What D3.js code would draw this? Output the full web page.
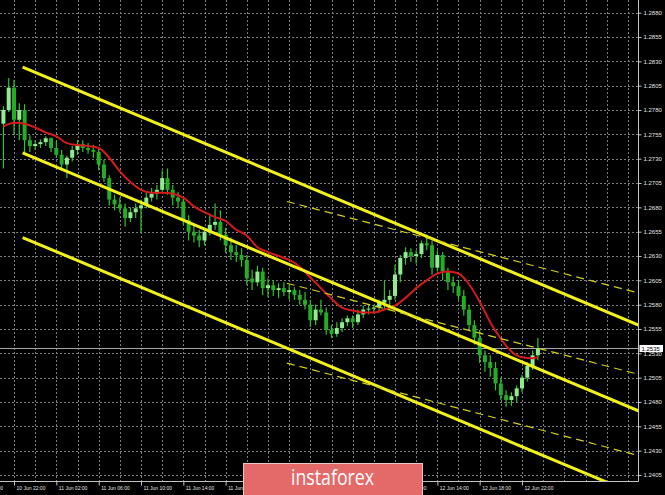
<!DOCTYPE html>
<html><head><meta charset="utf-8">
<script src="https://cdn.jsdelivr.net/npm/d3@7"></script>
<style>
html,body{margin:0;padding:0;background:#000;}
svg{display:block;}
</style></head>
<body><svg id="c" width="665" height="495"></svg>
<script>
// ---------- data (GBP/USD, 30-minute bars from 10 Jun 21:00) ----------
const barStart = "2020-06-10 21:00";
const barMinutes = 30;
const open = [1.2766,1.2780,1.2803,1.2770,1.2780,1.2749,1.2743,1.2745,1.2747,1.2751,
1.2741,1.2734,1.2724,1.2731,1.2739,1.2745,1.2741,1.2739,1.2737,1.2724,
1.2710,1.2688,1.2683,1.2679,1.2669,1.2675,1.2679,1.2682,1.2690,1.2694,
1.2698,1.2710,1.2698,1.2690,1.2686,1.2667,1.2655,1.2651,1.2646,1.2655,
1.2662,1.2665,1.2652,1.2641,1.2634,1.2631,1.2626,1.2607,1.2603,1.2614,
1.2597,1.2600,1.2595,1.2597,1.2593,1.2595,1.2590,1.2585,1.2580,1.2564,
1.2575,1.2572,1.2554,1.2550,1.2556,1.2562,1.2566,1.2562,1.2570,1.2575,
1.2576,1.2577,1.2582,1.2585,1.2589,1.2611,1.2628,1.2634,1.2630,1.2632,
1.2643,1.2641,1.2618,1.2631,1.2614,1.2603,1.2599,1.2589,1.2575,1.2559,
1.2546,1.2528,1.2521,1.2515,1.2499,1.2487,1.2482,1.2486,1.2494,1.2505,
1.2517,1.2528];
const high = [1.2784,1.2813,1.2811,1.2787,1.2786,1.2754,1.2749,1.2750,1.2753,1.2752,
1.2749,1.2739,1.2733,1.2743,1.2749,1.2749,1.2746,1.2744,1.2741,1.2729,
1.2713,1.2693,1.2690,1.2684,1.2680,1.2684,1.2688,1.2695,1.2700,1.2703,
1.2718,1.2720,1.2703,1.2696,1.2690,1.2672,1.2662,1.2657,1.2659,1.2672,
1.2684,1.2677,1.2659,1.2649,1.2641,1.2638,1.2631,1.2616,1.2620,1.2618,
1.2607,1.2605,1.2602,1.2603,1.2600,1.2598,1.2595,1.2593,1.2585,1.2580,
1.2585,1.2577,1.2559,1.2562,1.2566,1.2569,1.2569,1.2575,1.2579,1.2580,
1.2580,1.2585,1.2605,1.2595,1.2621,1.2631,1.2639,1.2638,1.2636,1.2646,
1.2652,1.2646,1.2636,1.2634,1.2618,1.2609,1.2605,1.2595,1.2580,1.2564,
1.2554,1.2533,1.2528,1.2521,1.2505,1.2492,1.2490,1.2497,1.2508,1.2521,
1.2533,1.2546];
const low = [1.2720,1.2778,1.2754,1.2749,1.2736,1.2737,1.2739,1.2741,1.2743,1.2737,
1.2731,1.2718,1.2710,1.2727,1.2734,1.2737,1.2735,1.2731,1.2718,1.2706,
1.2682,1.2677,1.2675,1.2660,1.2665,1.2669,1.2654,1.2679,1.2686,1.2688,
1.2696,1.2693,1.2682,1.2679,1.2662,1.2646,1.2644,1.2639,1.2641,1.2651,
1.2657,1.2646,1.2633,1.2626,1.2624,1.2619,1.2600,1.2595,1.2599,1.2590,
1.2588,1.2589,1.2587,1.2589,1.2585,1.2585,1.2580,1.2575,1.2557,1.2559,
1.2569,1.2549,1.2546,1.2547,1.2552,1.2558,1.2556,1.2559,1.2566,1.2570,
1.2571,1.2572,1.2575,1.2575,1.2585,1.2603,1.2621,1.2624,1.2622,1.2628,
1.2636,1.2611,1.2614,1.2605,1.2595,1.2592,1.2585,1.2569,1.2554,1.2539,
1.2520,1.2511,1.2506,1.2492,1.2482,1.2475,1.2476,1.2480,1.2490,1.2501,
1.2513,1.2523];
const close = [1.2780,1.2803,1.2770,1.2780,1.2749,1.2743,1.2745,1.2747,1.2751,1.2741,
1.2734,1.2724,1.2731,1.2739,1.2745,1.2741,1.2739,1.2737,1.2724,1.2710,
1.2688,1.2683,1.2679,1.2669,1.2675,1.2679,1.2682,1.2690,1.2694,1.2698,
1.2710,1.2698,1.2690,1.2686,1.2667,1.2655,1.2651,1.2646,1.2655,1.2662,
1.2665,1.2652,1.2641,1.2634,1.2631,1.2626,1.2607,1.2603,1.2614,1.2597,
1.2600,1.2595,1.2597,1.2593,1.2595,1.2590,1.2585,1.2580,1.2564,1.2575,
1.2572,1.2554,1.2550,1.2556,1.2562,1.2566,1.2562,1.2570,1.2575,1.2576,
1.2577,1.2582,1.2585,1.2589,1.2611,1.2628,1.2634,1.2630,1.2632,1.2643,
1.2641,1.2618,1.2631,1.2614,1.2603,1.2599,1.2589,1.2575,1.2559,1.2546,
1.2528,1.2521,1.2515,1.2499,1.2487,1.2482,1.2486,1.2494,1.2505,1.2517,
1.2528,1.2535];
// moving average, read hourly (bars 0,2,4,...,100) plus the last bar
const maValues = [1.2763,1.2767,1.2766,1.2762,1.2757,1.2753,1.2746,1.2744,1.2743,1.2741,
1.2731,1.2717,1.2706,1.2698,1.2695,1.2695,1.2694,1.2690,1.2681,1.2675,
1.2670,1.2666,1.2657,1.2651,1.2639,1.2634,1.2630,1.2626,1.2619,1.2608,
1.2597,1.2586,1.2577,1.2574,1.2572,1.2572,1.2575,1.2579,1.2587,1.2597,
1.2605,1.2612,1.2614,1.2612,1.2601,1.2583,1.2562,1.2545,1.2532,1.2526,
1.2525,1.2526];
const currentPrice = 1.2535;
// channel lines [time, price]
const channelTop = [["2020-06-10 22:49",1.2824],["2020-06-13 09:00",1.2559]];
const channelMid = [["2020-06-10 22:49",1.2736],["2020-06-13 09:00",1.2471]];
const channelBot = [["2020-06-10 22:49",1.2649],["2020-06-13 09:00",1.2384]];
const dashTop = [["2020-06-11 23:47",1.2686],["2020-06-13 09:00",1.2592]];
const dashMid = [["2020-06-11 23:47",1.2602],["2020-06-13 09:00",1.25085]];
const dashBot = [["2020-06-11 23:47",1.2520],["2020-06-13 09:00",1.2425]];
// tick labels (labels that the logo fully covers are not drawn)
const yTicks = [1.2880,1.2855,1.2830,1.2805,1.2780,1.2755,1.2730,1.2705,1.2680,1.2655,
1.2630,1.2605,1.2580,1.2555,1.2530,1.2505,1.2480,1.2455,1.2430,1.2405];
const xTickLabels = ["2020-06-10 18:00","2020-06-10 22:00","2020-06-11 02:00","2020-06-11 06:00",
"2020-06-11 10:00","2020-06-11 14:00","2020-06-11 18:00",
"2020-06-12 10:00","2020-06-12 14:00","2020-06-12 18:00","2020-06-12 22:00"];
const logoText = "instaforex";

// ---------- drawing ----------
const W = 665, H = 495, plotR = 638, plotB = 481;
const parse = d3.timeParse("%Y-%m-%d %H:%M");
const x = d3.scaleTime()
  .domain([parse("2020-06-10 22:00"), parse("2020-06-13 10:00")])
  .range([14, 649]);
const y = d3.scaleLinear().domain([1.2405, 1.2880]).range([475, 12.7]);

const svg = d3.select("#c");
svg.append("rect").attr("width", W).attr("height", H).attr("fill", "#000");
svg.append("defs").append("clipPath").attr("id", "plot")
  .append("rect").attr("x", 0).attr("y", 0).attr("width", plotR).attr("height", plotB);

const g = svg.append("g").attr("clip-path", "url(#plot)");

// grid
const gridColor = "#7c7c7c";
g.append("g").selectAll("line").data(yTicks).join("line")
  .attr("x1", 0).attr("x2", plotR)
  .attr("y1", d => Math.round(y(d)) + 0.5).attr("y2", d => Math.round(y(d)) + 0.5)
  .attr("stroke", gridColor).attr("stroke-width", 1).attr("stroke-dasharray", "2,2");
const vGrid = d3.timeHour.every(2).range(parse("2020-06-10 20:00"), parse("2020-06-13 10:00"));
g.append("g").selectAll("line").data(vGrid).join("line")
  .attr("x1", d => Math.round(x(d)) + 0.5).attr("x2", d => Math.round(x(d)) + 0.5)
  .attr("y1", 0).attr("y2", plotB)
  .attr("stroke", gridColor).attr("stroke-width", 1).attr("stroke-dasharray", "2,2");

// current price line
g.append("line").attr("x1", 0).attr("x2", plotR)
  .attr("y1", y(currentPrice)).attr("y2", y(currentPrice))
  .attr("stroke", "#a8a8a8").attr("stroke-width", 1);

// candles
const bars = close.map((c, i) => ({
  t: d3.timeMinute.offset(parse(barStart), barMinutes * i),
  o: open[i], h: high[i], l: low[i], c: c
}));
const bw = 4;
const cg = g.append("g");
cg.selectAll("line").data(bars).join("line")
  .attr("x1", d => x(d.t)).attr("x2", d => x(d.t))
  .attr("y1", d => y(d.h)).attr("y2", d => y(d.l))
  .attr("stroke", "#2ec42e").attr("stroke-width", 1.2);
cg.selectAll("rect").data(bars).join("rect")
  .attr("x", d => x(d.t) - bw / 2)
  .attr("y", d => y(Math.max(d.o, d.c)))
  .attr("width", bw)
  .attr("height", d => Math.max(1, Math.abs(y(d.o) - y(d.c))))
  .attr("fill", d => d.c >= d.o ? "#8fec8f" : "#25ad25");

// moving average
const maPts = maValues.map((v, i) => ({ t: bars[Math.min(i * 2, bars.length - 1)].t, v }));
g.append("path").datum(maPts)
  .attr("d", d3.line().x(d => x(d.t)).y(d => y(d.v)).curve(d3.curveMonotoneX))
  .attr("fill", "none").attr("stroke", "#d41a1a").attr("stroke-width", 2);

// channel lines
const seg = d3.line().x(d => x(parse(d[0]))).y(d => y(d[1]));
[channelTop, channelMid, channelBot].forEach(L => {
  g.append("path").attr("d", seg(L)).attr("fill", "none")
    .attr("stroke", "#f2f21a").attr("stroke-width", 3);
});
[dashTop, dashMid, dashBot].forEach(L => {
  g.append("path").attr("d", seg(L)).attr("fill", "none")
    .attr("stroke", "#cfcf1c").attr("stroke-width", 1.2).attr("stroke-dasharray", "8,5");
});

// borders
svg.append("line").attr("x1", plotR + 0.5).attr("x2", plotR + 0.5).attr("y1", 0).attr("y2", plotB + 0.5)
  .attr("stroke", "#c4c4c4");
svg.append("line").attr("x1", 0).attr("x2", plotR + 0.5).attr("y1", plotB + 0.5).attr("y2", plotB + 0.5)
  .attr("stroke", "#c4c4c4");

// y axis
const yAxis = svg.append("g").attr("transform", `translate(${plotR + 0.5},0)`)
  .call(d3.axisRight(y).tickValues(yTicks).tickSize(3).tickPadding(2).tickFormat(d3.format(".4f")));
yAxis.select(".domain").remove();
yAxis.selectAll("line").attr("stroke", "#c4c4c4");
yAxis.selectAll("text").attr("fill", "#e2e2e2")
  .style("font-family", "'Liberation Sans', Arial, sans-serif").style("font-size", "6px");

// x axis
const xAxis = svg.append("g").attr("transform", `translate(0,${plotB + 0.5})`)
  .call(d3.axisBottom(x).tickValues(xTickLabels.map(parse)).tickSize(4)
    .tickFormat(d3.timeFormat("%d Jun %H:%M")));
xAxis.select(".domain").remove();
xAxis.selectAll("line").attr("stroke", "#c4c4c4");
xAxis.selectAll("text").attr("fill", "#e2e2e2")
  .attr("text-anchor", "start").attr("x", 2).attr("y", 5).attr("dy", "0.71em")
  .style("font-family", "'Liberation Sans', Arial, sans-serif").style("font-size", "5px");

// current price label
const py = y(currentPrice);
svg.append("rect").attr("x", 639.5).attr("y", py - 3.5).attr("width", 23.5).attr("height", 7)
  .attr("fill", "#ffffff");
svg.append("text").attr("x", 641.5).attr("y", py).attr("dy", "0.35em")
  .attr("fill", "#000").style("font-family", "'Liberation Sans', Arial, sans-serif")
  .style("font-size", "6px").text(d3.format(".4f")(currentPrice));

// logo
svg.append("rect").attr("x", 243.5).attr("y", 463.5).attr("width", 179).attr("height", 34)
  .attr("fill", "#e46a6a").attr("stroke", "#f1c4c4").attr("stroke-width", 1);
svg.append("text").attr("x", 291).attr("y", 485)
  .attr("textLength", 83).attr("lengthAdjust", "spacingAndGlyphs")
  .attr("fill", "#ffffff").style("font-family", "'Open Sans', sans-serif")
  .style("font-weight", 400).style("font-size", "21px").text(logoText);
</script>
</body></html>
